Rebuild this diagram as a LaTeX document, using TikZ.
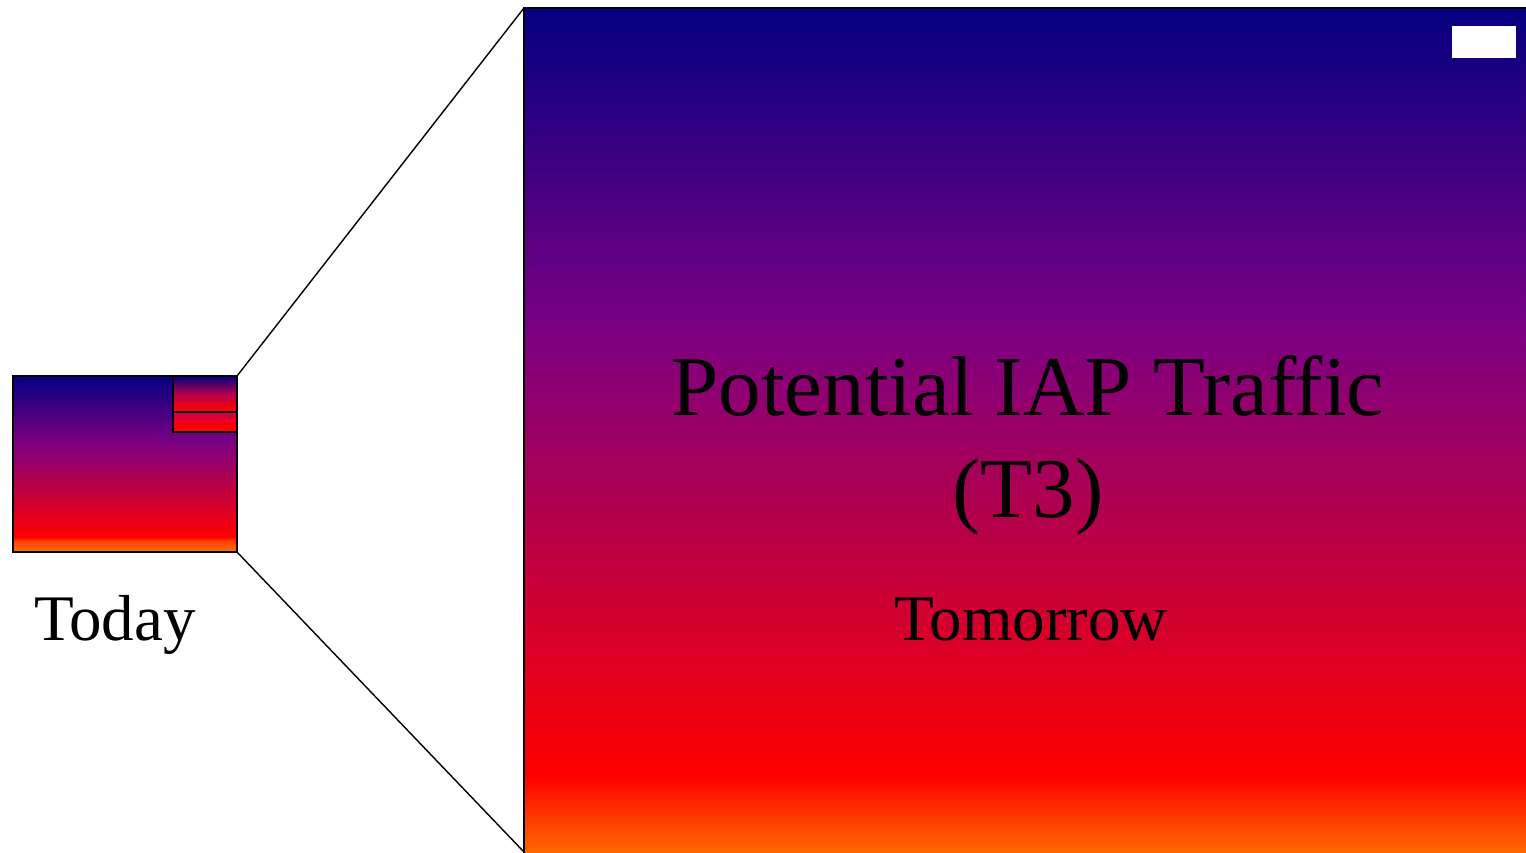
\documentclass[tikz,border=0pt]{standalone}
\usepackage{fontspec}
\setmainfont{Liberation Serif}
\definecolor{navyc}{RGB}{4,0,128}
\definecolor{purplec}{RGB}{125,0,130}
\definecolor{redc}{RGB}{255,0,0}
\definecolor{orangec}{RGB}{255,112,0}
\definecolor{pinkc}{RGB}{200,0,90}
\pgfdeclareverticalshading{firebig}{100bp}{color(0bp)=(orangec); color(25bp)=(orangec); color(29.9bp)=(redc); color(55.9bp)=(purplec); color(75bp)=(navyc); color(100bp)=(navyc)}
\pgfdeclareverticalshading{firesmall}{100bp}{color(0bp)=(orangec); color(25bp)=(orangec); color(28.2bp)=(orangec!60!redc); color(29.2bp)=(redc); color(56bp)=(purplec); color(75bp)=(navyc); color(100bp)=(navyc)}
\pgfdeclareverticalshading{fireinset}{100bp}{color(0bp)=(redc); color(28bp)=(redc); color(50bp)=(purplec!60!redc); color(75bp)=(navyc); color(100bp)=(navyc)}
\pgfdeclareverticalshading{fireinsetlow}{100bp}{color(0bp)=(redc); color(40bp)=(redc); color(75bp)=(pinkc); color(100bp)=(pinkc)}
\tikzset{
  frame/.style={draw=black, line width=1.6pt},
  zoomline/.style={draw=black, line width=1.4pt},
  bigtext/.style={font=\fontsize{85}{102}\selectfont, align=center, inner sep=0pt},
  captext/.style={font=\fontsize{65}{76}\selectfont, inner sep=0pt},
}
\begin{document}
\begin{tikzpicture}[x=1pt,y=-1pt]
\useasboundingbox (0,0) rectangle (1526,852);
\clip (0,0) rectangle (1526,852);
% big box
\path[shading=firebig, frame] (524,8) rectangle (1532,858);
\coordinate (bigtl) at (524,8);
\coordinate (bigbl) at (524,852);
\fill[white] (1452,26) rectangle (1516,58);
% small box
\path[shading=firesmall, frame] (13,376) rectangle (237,552);
\coordinate (smalltr) at (237,376);
\coordinate (smallbr) at (237,552);
\path[shading=fireinset, frame] (173,376) rectangle (237,412);
\path[shading=fireinsetlow, frame] (173,412) rectangle (237,432);
% zoom lines
\draw[zoomline] (smalltr) -- (bigtl);
\draw[zoomline] (smallbr) -- (bigbl);
% texts
\node[bigtext, anchor=base] (title) at (1028,517) {Potential IAP Traffic\\(T3)};
\node[captext, anchor=base] (tomorrow) at (1031,640) {Tomorrow};
\node[captext, anchor=base] (today) at (115,640) {Today};
\end{tikzpicture}
\end{document}
